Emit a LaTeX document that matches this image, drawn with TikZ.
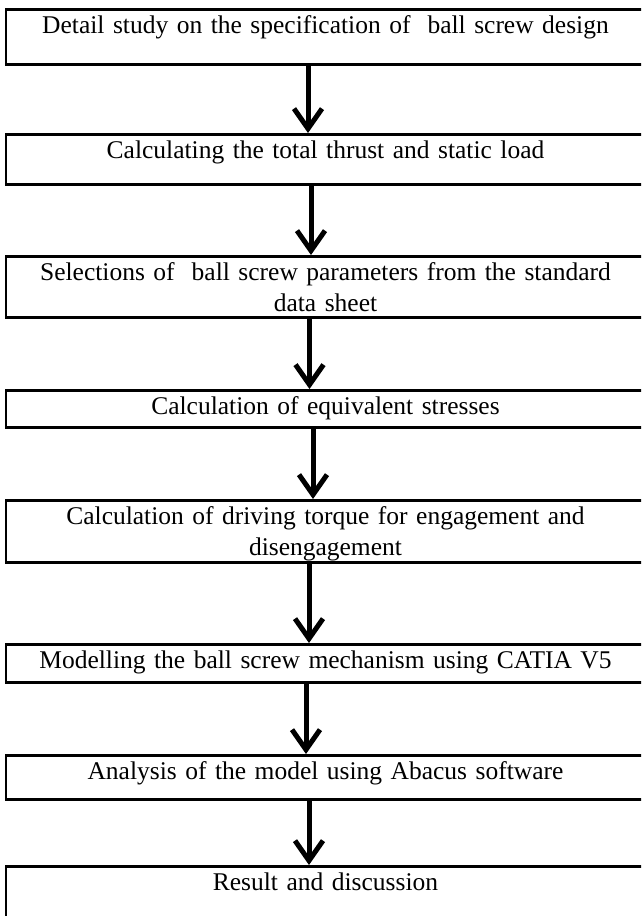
\documentclass[tikz,border=0pt]{standalone}
\usepackage{fontspec}
\setmainfont{Liberation Serif}
\usetikzlibrary{arrows.meta,positioning}

\begin{document}
\begin{tikzpicture}[x=1pt, y=-1pt,
  stepbox/.style={rectangle, draw=black, line width=2.5pt, anchor=north, inner xsep=5pt, inner ysep=0pt,
                  text width=629pt, align=center, text height=24.5pt, text depth=#1,
                  font=\fontsize{25.5}{31}\selectfont},
  flow/.style={line width=5pt, -{Straight Barb[length=20pt,width=28pt]}},
]
  \useasboundingbox (0,0) rectangle (641,916);
  \clip (0,0) rectangle (641,916);

  \node[stepbox=30.5pt] (b1) at (325.5, 8) {Detail study on the specification of~ ball screw design};
  \node[stepbox=25.5pt] (b2) at (325.5, 133) {Calculating the total thrust and static load};
  \node[stepbox=36.5pt] (b3) at (325.5, 255) {Selections of~ ball screw parameters from the standard\\ data sheet};
  \node[stepbox=12.5pt] (b4) at (325.5, 389) {Calculation of equivalent stresses};
  \node[stepbox=37.5pt] (b5) at (325.5, 499) {Calculation of driving torque for engagement and\\ disengagement};
  \node[stepbox=13.5pt] (b6) at (325.5, 643) {Modelling the ball screw mechanism using CATIA V5};
  \node[stepbox=19.5pt] (b7) at (325.5, 754) {Analysis of the model using Abacus software};
  \node[stepbox=40.5pt] (b8) at (325.5, 865) {Result and discussion};

  % arrows sit a little left of the box centres
  \foreach \a/\b/\dx in {b1/b2/-17.5, b2/b3/-14.5, b3/b4/-16, b4/b5/-12.5, b5/b6/-16.5, b6/b7/-19.5, b7/b8/-16.5}
    \draw[flow] ([xshift=\dx pt]\a.south) -- ([xshift=\dx pt]\b.north);
\end{tikzpicture}
\end{document}
